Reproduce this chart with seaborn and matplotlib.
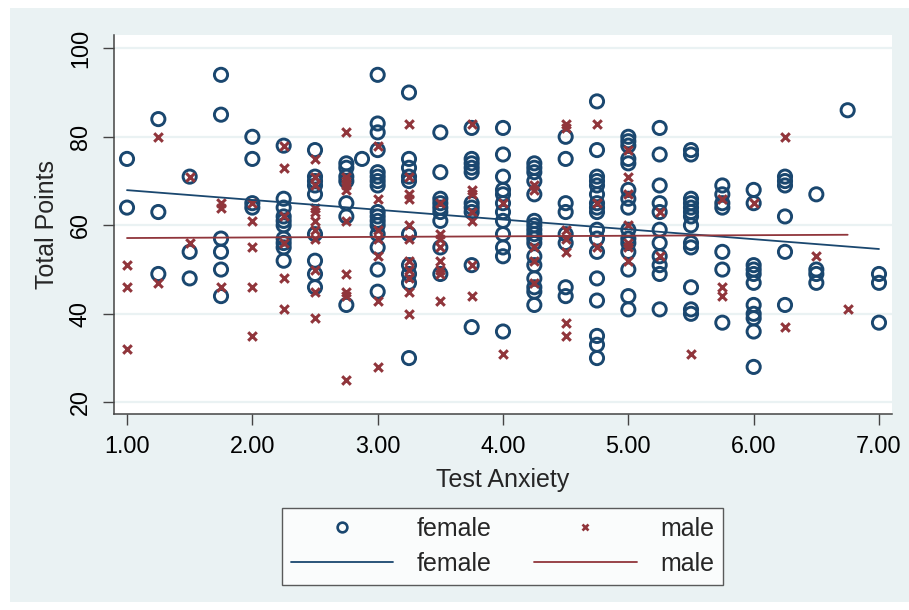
import matplotlib
matplotlib.use("Agg")
import matplotlib.pyplot as plt
import seaborn as sns
import pandas as pd
from matplotlib.lines import Line2D
from matplotlib.patches import Rectangle

# ----------- DONNÉES ------------------------------------

# Test Anxiety levels and Total Points observed at each level
female_levels = [1.00, 1.25, 1.50, 1.75, 2.00, 2.25, 2.50, 2.75, 2.875, 3.00,
                 3.25, 3.50, 3.75, 4.00, 4.25, 4.50, 4.75, 5.00, 5.25, 5.50,
                 5.75, 6.00, 6.25, 6.50, 6.75, 7.00]
female_points = [
    [75, 64],
    [84, 63, 49],
    [71, 54, 48],
    [94, 85, 57, 54, 50, 44],
    [80, 75, 65, 64],
    [78, 66, 64, 62, 61, 60, 57, 56, 55, 52],
    [77, 71, 70, 69, 67, 58, 52, 49, 46],
    [74, 73, 71, 70, 65, 62, 42],
    [75],
    [94, 83, 81, 77, 72, 71, 70, 69, 63, 62, 61, 60, 58, 55, 50, 45],
    [90, 75, 73, 71, 70, 58, 51, 49, 47, 30],
    [81, 72, 66, 65, 64, 63, 61, 55, 49],
    [82, 75, 74, 73, 72, 65, 64, 63, 51, 37],
    [82, 76, 71, 68, 67, 65, 63, 61, 58, 55, 53, 36],
    [74, 73, 72, 70, 67, 61, 60, 59, 58, 57, 56, 53, 51, 48, 46, 45, 42],
    [80, 75, 65, 63, 58, 56, 46, 44],
    [88, 77, 71, 70, 69, 67, 65, 64, 63, 59, 57, 54, 48, 43, 35, 33, 30],
    [80, 79, 78, 75, 74, 68, 66, 64, 59, 57, 56, 54, 50, 44, 41],
    [82, 76, 69, 65, 63, 59, 56, 53, 51, 49, 41],
    [77, 76, 66, 65, 64, 63, 62, 60, 56, 55, 46, 41, 40],
    [69, 67, 65, 64, 54, 50, 38],
    [68, 65, 51, 50, 49, 47, 42, 40, 39, 36, 28],
    [71, 70, 69, 62, 54, 42],
    [67, 50, 49, 47],
    [86],
    [49, 47, 38],
]

male_levels = [1.00, 1.25, 1.50, 1.75, 2.00, 2.25, 2.50, 2.75, 3.00, 3.25,
               3.50, 3.75, 4.00, 4.25, 4.50, 4.75, 5.00, 5.25, 5.50, 5.75,
               6.00, 6.25, 6.50, 6.75]
male_points = [
    [51, 46, 32],
    [80, 47],
    [71, 56],
    [65, 64, 46],
    [65, 61, 55, 46, 35],
    [78, 73, 62, 56, 48, 41],
    [75, 71, 69, 64, 63, 61, 59, 57, 50, 45, 39],
    [81, 71, 70, 69, 68, 61, 49, 45, 44, 25],
    [78, 66, 59, 57, 53, 43, 28],
    [83, 71, 67, 66, 60, 57, 52, 50, 48, 45, 40],
    [65, 58, 57, 55, 52, 50, 49, 43],
    [83, 68, 67, 63, 61, 51, 44],
    [65, 31],
    [69, 68, 55, 52, 47],
    [83, 82, 59, 57, 54, 38, 35],
    [83, 65, 55],
    [77, 71, 67, 60, 56, 55, 52],
    [63, 53],
    [31],
    [66, 46, 44],
    [65],
    [80, 37],
    [53],
    [41],
]

x_ticks = [1, 2, 3, 4, 5, 6, 7]
x_ticklabels = ["1.00", "2.00", "3.00", "4.00", "5.00", "6.00", "7.00"]
y_ticks = [20, 40, 60, 80, 100]

# Mise en forme tabulaire
rows = []
for lvl, pts in zip(female_levels, female_points):
    for p in pts:
        rows.append({"anxiety": lvl, "points": p, "gender": "female"})
for lvl, pts in zip(male_levels, male_points):
    for p in pts:
        rows.append({"anxiety": lvl, "points": p, "gender": "male"})
df = pd.DataFrame(rows)
fem = df[df.gender == "female"]
mal = df[df.gender == "male"]

# ----------- STYLE ------------
NAVY = "#1a476f"
MAROON = "#90353b"
BG = "#eaf2f3"

sns.set_style("white")
plt.rcParams["font.family"] = ["Liberation Sans", "DejaVu Sans"]
FS_TICK = 16.8
FS_LAB = 18

fig = plt.figure(figsize=(9.09, 6.10), dpi=100)
fig.patch.set_facecolor("white")
fig.patches.append(Rectangle((10 / 909, 8 / 610), 1 - 10 / 909, 1 - 16 / 610,
                             transform=fig.transFigure, facecolor=BG,
                             edgecolor="none", zorder=-10))

ax = fig.add_axes([114 / 909, 1 - 414 / 610, (892 - 114) / 909, (414 - 35) / 610])
ax.set_facecolor("white")

for yv in y_ticks:
    ax.axhline(yv, color=BG, lw=1.6, zorder=0)

# Nuages de points
sns.scatterplot(data=fem, x="anxiety", y="points", ax=ax, marker="o", s=90,
                facecolor="none", edgecolor=NAVY, linewidth=2.1, zorder=3)
sns.scatterplot(data=mal, x="anxiety", y="points", ax=ax, marker="x", s=38,
                color=MAROON, linewidth=2.2, zorder=4)

# Droites d'ajustement linéaire
sns.regplot(data=fem, x="anxiety", y="points", ax=ax, scatter=False, ci=None,
            truncate=True, line_kws={"color": NAVY, "lw": 1.3, "zorder": 5})
sns.regplot(data=mal, x="anxiety", y="points", ax=ax, scatter=False, ci=None,
            truncate=True, line_kws={"color": MAROON, "lw": 1.3, "zorder": 5})

ax.set_xlim(1 - 13 / 125.3, 7 + 13 / 125.3)
ax.set_ylim(20 - 11.7 / 4.43, 100 + 13.3 / 4.43)
ax.set_xticks(x_ticks)
ax.set_xticklabels(x_ticklabels)
ax.set_yticks(y_ticks)
ax.set_yticklabels([str(v) for v in y_ticks], rotation=90, va="center")

for side in ["top", "right"]:
    ax.spines[side].set_visible(False)
for side in ["left", "bottom"]:
    ax.spines[side].set_color("#444444")
    ax.spines[side].set_linewidth(1.1)

ax.tick_params(axis="both", which="major", direction="out", length=8,
               width=1.0, color="#444444", labelsize=FS_TICK, labelcolor="black",
               left=True, bottom=True)
ax.tick_params(axis="x", pad=7)
ax.tick_params(axis="y", pad=8)

ax.set_xlabel("Test Anxiety", fontsize=FS_LAB, labelpad=7)
ax.set_ylabel("Total Points", fontsize=FS_LAB, labelpad=7)

# Légende
handles = [
    Line2D([], [], marker="o", ls="none", ms=7, mfc="none", mec=NAVY, mew=1.9),
    Line2D([], [], color=NAVY, lw=1.3),
    Line2D([], [], marker="x", ls="none", ms=5, color=MAROON, mew=1.9),
    Line2D([], [], color=MAROON, lw=1.3),
]
labels = ["female", "female", "male", "male"]
leg = fig.legend(handles, labels, ncol=2, loc="center",
                 bbox_to_anchor=(502.5 / 909, 1 - 546.5 / 610),
                 fontsize=FS_LAB, frameon=True, fancybox=False, shadow=False,
                 handlelength=4.1, handletextpad=0.95, columnspacing=1.7,
                 labelspacing=0.45, borderpad=0.35, borderaxespad=0)
leg.get_frame().set_edgecolor("#333333")
leg.get_frame().set_linewidth(1.0)
leg.get_frame().set_facecolor("white")

fig.savefig("out.png", dpi=100, facecolor=fig.get_facecolor())
